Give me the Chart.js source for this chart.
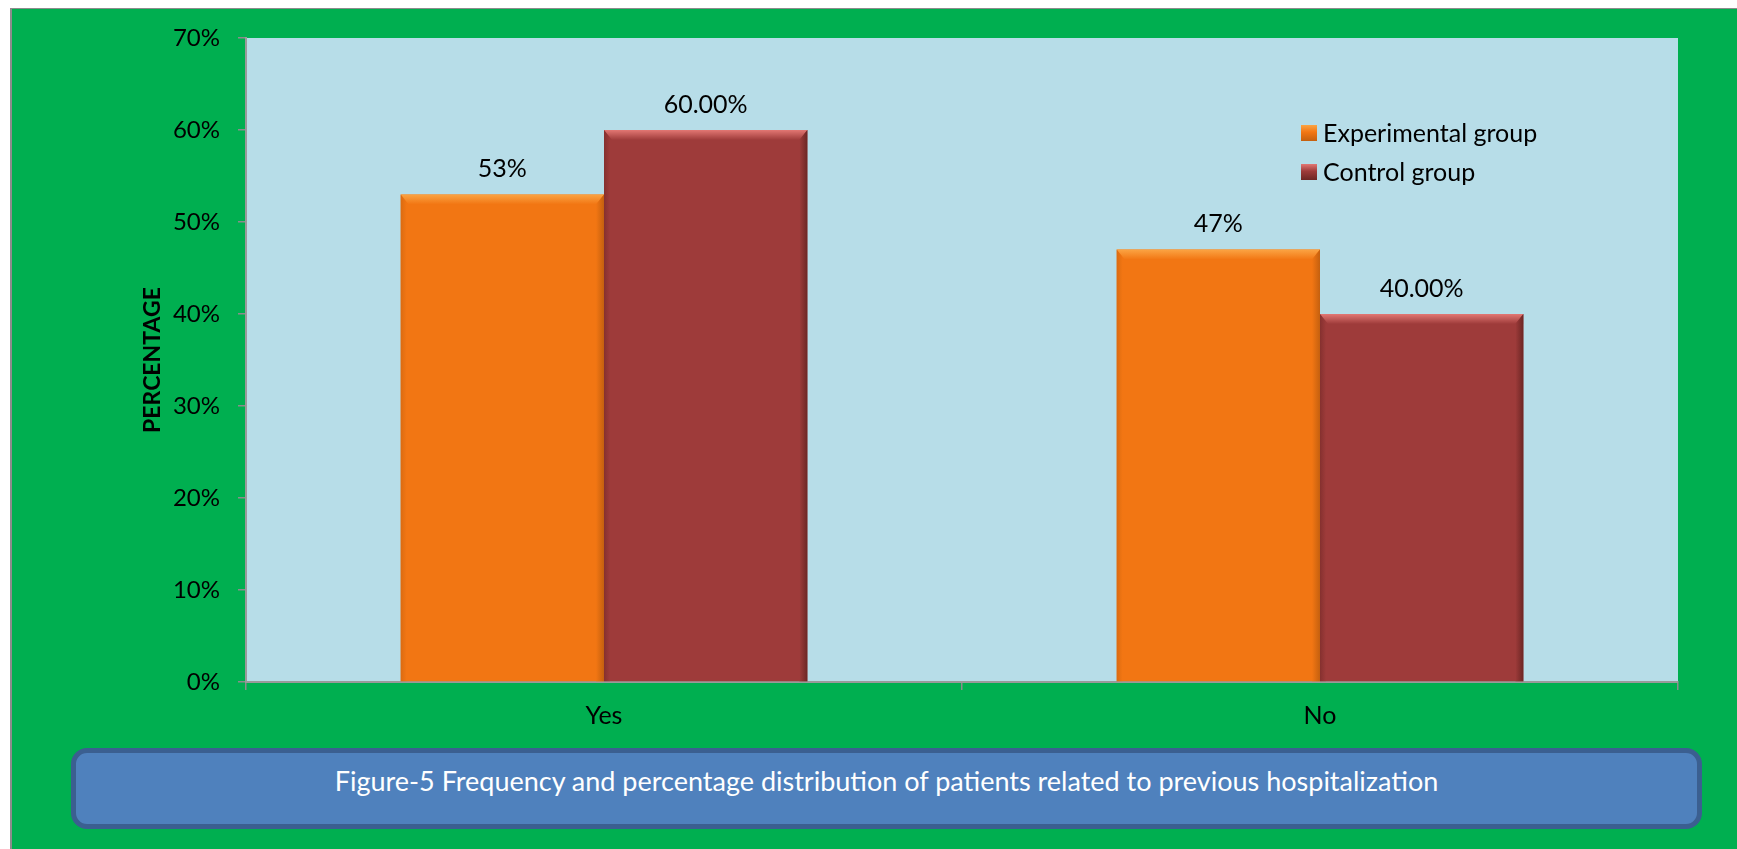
<!DOCTYPE html>
<html>
<head>
<meta charset="utf-8">
<script src="https://cdn.jsdelivr.net/npm/chart.js@4.4.1/dist/chart.umd.min.js"></script>
<style>
  html, body { margin: 0; padding: 0; background: #ffffff; }
  body { width: 1737px; height: 849px; position: relative; overflow: hidden; font-family: Lato, "Open Sans", sans-serif; }
  #frame {
    position: absolute; left: 10px; top: 8px; right: 0; bottom: 0;
    background: #00AF50;
    border-top: 1px solid #8c8c8c; border-left: 2px solid #8c8c8c;
  }
  #wrap { position: absolute; left: 0; top: 0; width: 1737px; height: 849px; }
  #caption {
    position: absolute; left: 71px; top: 748px; width: 1631px; height: 81px;
    box-sizing: border-box;
    background: #4F81BD; border: 5px solid #3B5F90; border-radius: 16px;
    color: #ffffff; font-family: Lato, "Open Sans", sans-serif; font-size: 27px;
    display: flex; align-items: center; justify-content: center; padding-bottom: 16px;
  }
</style>
</head>
<body>
<div id="frame"></div>
<div id="wrap"><canvas id="chart" width="1737" height="849"></canvas></div>
<div id="caption">Figure-5 Frequency and percentage distribution of patients related to previous hospitalization</div>
<script>
// Previous hospitalization, percentage of patients per group
const categories = ['Yes', 'No'];
const seriesNames = ['Experimental group', 'Control group'];
const experimental = [53, 47];
const control = [60, 40];
const labelDecimals = [0, 2];
const yTicks = [0, 10, 20, 30, 40, 50, 60, 70];

const FONT = 'Lato, "Open Sans", sans-serif';
const palette = [
  { base: '#F27613', light: '#FBA443', dark: '#C4600F' },
  { base: '#9E3B3A', light: '#E27773', dark: '#6C2624' }
];

// Light blue plot area
const plotBackground = {
  id: 'plotBackground',
  beforeDraw(chart) {
    const { ctx, chartArea: a } = chart;
    ctx.save();
    ctx.fillStyle = '#B7DDE8';
    ctx.fillRect(a.left, a.top, a.right - a.left, a.bottom - a.top);
    ctx.restore();
  }
};

// Bevelled look on each bar, following the bar geometry from the chart
const bevel = {
  id: 'bevel',
  afterDatasetsDraw(chart) {
    const ctx = chart.ctx;
    chart.data.datasets.forEach((ds, di) => {
      const c = palette[di];
      chart.getDatasetMeta(di).data.forEach(bar => {
        const { x, y, base, width } = bar.getProps(['x', 'y', 'base', 'width'], true);
        const l = x - width / 2, r = x + width / 2;
        ctx.save();
        // top highlight strip
        let g = ctx.createLinearGradient(0, y, 0, y + 10);
        g.addColorStop(0, c.light);
        g.addColorStop(1, c.base);
        ctx.fillStyle = g;
        ctx.beginPath();
        ctx.moveTo(l, y); ctx.lineTo(r, y); ctx.lineTo(r - 8, y + 10); ctx.lineTo(l + 8, y + 10); ctx.closePath();
        ctx.fill();
        // right shade
        g = ctx.createLinearGradient(r - 8, 0, r, 0);
        g.addColorStop(0, c.base);
        g.addColorStop(1, c.dark);
        ctx.fillStyle = g;
        ctx.beginPath();
        ctx.moveTo(r, y); ctx.lineTo(r, base); ctx.lineTo(r - 8, base); ctx.lineTo(r - 8, y + 10); ctx.closePath();
        ctx.fill();
        // left soft edge
        g = ctx.createLinearGradient(l, 0, l + 6, 0);
        g.addColorStop(0, c.dark);
        g.addColorStop(1, c.base);
        ctx.globalAlpha = 0.5;
        ctx.fillStyle = g;
        ctx.beginPath();
        ctx.moveTo(l, y); ctx.lineTo(l + 8, y + 10); ctx.lineTo(l + 6, base); ctx.lineTo(l, base); ctx.closePath();
        ctx.fill();
        ctx.restore();
      });
    });
  }
};

// Value labels above bars
const valueLabels = {
  id: 'valueLabels',
  afterDatasetsDraw(chart) {
    const ctx = chart.ctx;
    ctx.save();
    ctx.font = '25px ' + FONT;
    ctx.fillStyle = '#000000';
    ctx.textAlign = 'center';
    ctx.textBaseline = 'bottom';
    chart.data.datasets.forEach((ds, di) => {
      chart.getDatasetMeta(di).data.forEach((bar, i) => {
        const txt = ds.data[i].toFixed(labelDecimals[di]) + '%';
        ctx.fillText(txt, bar.x, bar.y - 13);
      });
    });
    ctx.restore();
  }
};

// Legend inside the plot area, top right
const innerLegend = {
  id: 'innerLegend',
  afterDraw(chart) {
    const { ctx, chartArea: a } = chart;
    const x = a.right - 377, y0 = a.top + 87, gap = 39, box = 16;
    ctx.save();
    ctx.font = '25px ' + FONT;
    ctx.textBaseline = 'middle';
    ctx.textAlign = 'left';
    chart.data.datasets.forEach((ds, di) => {
      const c = palette[di];
      const y = y0 + di * gap;
      const g = ctx.createLinearGradient(0, y, 0, y + box);
      g.addColorStop(0, c.light);
      g.addColorStop(0.45, c.base);
      g.addColorStop(1, c.dark);
      ctx.fillStyle = g;
      ctx.fillRect(x, y, box, box);
      ctx.fillStyle = '#000000';
      ctx.fillText(ds.label, x + box + 6, y + box / 2 + 1);
    });
    ctx.restore();
  }
};

new Chart(document.getElementById('chart'), {
  type: 'bar',
  data: {
    labels: categories,
    datasets: [
      { label: seriesNames[0], data: experimental, backgroundColor: palette[0].base },
      { label: seriesNames[1], data: control, backgroundColor: palette[1].base }
    ]
  },
  options: {
    responsive: false,
    animation: false,
    devicePixelRatio: 1,
    layout: { padding: { top: 38, right: 59, bottom: 107, left: 0 } },
    datasets: { bar: { categoryPercentage: 0.568, barPercentage: 1.0 } },
    plugins: { legend: { display: false }, tooltip: { enabled: false } },
    scales: {
      x: {
        grid: { display: true, drawOnChartArea: false, drawTicks: true, tickLength: 8, color: '#8c8c8c', lineWidth: 1.5 },
        border: { display: true, color: '#9a9a9a', width: 2 },
        ticks: { color: '#000000', font: { family: FONT, size: 25 }, padding: 11 },
        afterFit(scale) { scale.height = 60; }
      },
      y: {
        min: 0, max: 70,
        afterBuildTicks(scale) { scale.ticks = yTicks.map(v => ({ value: v })); },
        grid: { display: true, drawOnChartArea: false, drawTicks: true, tickLength: 8, color: '#8c8c8c', lineWidth: 1.5 },
        border: { display: true, color: '#9a9a9a', width: 2 },
        ticks: { color: '#000000', font: { family: FONT, size: 24 }, padding: 18, callback: v => v + '%' },
        title: { display: true, text: 'PERCENTAGE', color: '#000000', font: { family: FONT, size: 23, weight: 'bold' }, padding: { top: 139, bottom: 0 } },
        afterFit(scale) { scale.width = 246; }
      }
    }
  },
  plugins: [plotBackground, bevel, valueLabels, innerLegend]
});
</script>
</body>
</html>
